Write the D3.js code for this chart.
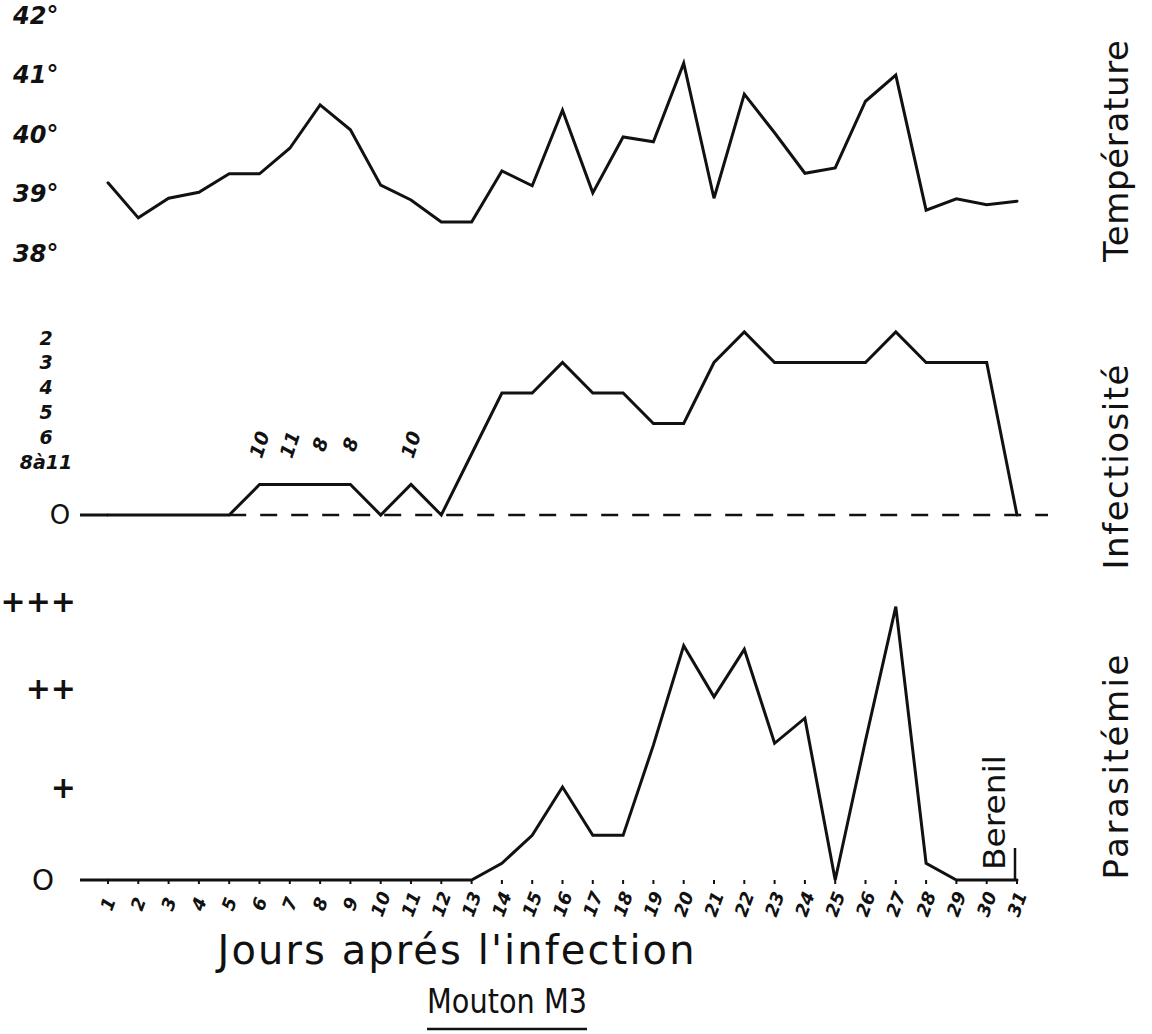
<!DOCTYPE html>
<html>
<head>
<meta charset="utf-8">
<script src="https://cdn.jsdelivr.net/npm/d3@7"></script>
<style>
  html, body { margin: 0; padding: 0; background: #fff; }
  svg { display: block; }
  .hand { font-family: "DejaVu Sans", sans-serif; font-weight: bold; font-style: italic; fill: #111; }
  .title { font-family: "DejaVu Sans", sans-serif; fill: #111; }
</style>
</head>
<body>
<svg id="chart" width="1152" height="1034"></svg>
<script>
// Days after infection
const days = d3.range(1, 32);

// Rectal temperature (°C), one reading per day
const temperature = [39.13, 38.54, 38.87, 38.97, 39.28, 39.28, 39.71, 40.44, 40.02, 39.09,
                     38.84, 38.47, 38.47, 39.33, 39.08, 40.35, 38.96, 39.90, 39.82, 41.14,
                     38.87, 40.62, 39.97, 39.29, 39.38, 40.50, 40.94, 38.67, 38.86, 38.76, 38.82];
const tempTicks = [42, 41, 40, 39, 38];

// Infectivity: highest infective dilution level ("0" = not infective)
const infectLevels = ["2", "3", "4", "5", "6", "8à11", "0"];
const infectivity = ["0", "0", "0", "0", "0", "8à11", "8à11", "8à11", "8à11", "0",
                     "8à11", "0", "6", "4", "4", "3", "4", "4", "5", "5",
                     "3", "2", "3", "3", "3", "3", "2", "3", "3", "3", "0"];
// Exact dilutions written above the low-level days
const dilutionNotes = [
  { day: 6, text: "10" }, { day: 7, text: "11" }, { day: 8, text: "8" },
  { day: 9, text: "8" }, { day: 11, text: "10" }
];

// Parasitaemia in crosses (0 to +++)
const parasitemia = [0, 0, 0, 0, 0, 0, 0, 0, 0, 0,
                     0, 0, 0, 0.18, 0.48, 1.0, 0.48, 0.48, 1.45, 2.52,
                     1.97, 2.48, 1.47, 1.74, 0, 1.5, 2.94, 0.18, 0, 0, 0];
const paraTicks = [{ v: 3, label: "+++" }, { v: 2, label: "++" }, { v: 1, label: "+" }, { v: 0, label: "O" }];

const svg = d3.select("#chart");

const x = d3.scaleLinear().domain([1, 31]).range([108, 1017]);
const yT = d3.scaleLinear().domain([38, 42]).range([250, 12]);
const yI = d3.scalePoint().domain(infectLevels).range([332, 515]);
// the level names are written in a slightly tighter column than the curve levels
const yILabel = d3.scalePoint().domain(infectLevels.slice(0, -1)).range([338, 462]);
const yP = d3.scaleLinear().domain([0, 3]).range([880, 601]);

const axisLeft = 80;
const lineStyle = sel => sel.attr("fill", "none").attr("stroke", "#111")
  .attr("stroke-width", 3).attr("stroke-linejoin", "miter").attr("stroke-linecap", "round");

// ---------- Temperature ----------
svg.append("g").selectAll("text").data(tempTicks).join("text")
  .attr("class", "hand")
  .attr("x", 13).attr("y", d => yT(d) + 2).attr("dy", "0.4em")
  .attr("font-size", 24)
  .text(d => d + "°");

svg.append("path").datum(days)
  .attr("d", d3.line().x(d => x(d)).y((d, i) => yT(temperature[i])))
  .call(lineStyle);

// ---------- Infectivity ----------
const yZeroI = yI("0");
svg.append("line")
  .attr("x1", x(5)).attr("x2", 1048).attr("y1", yZeroI).attr("y2", yZeroI)
  .attr("stroke", "#111").attr("stroke-width", 2.5).attr("stroke-dasharray", "17 14");
svg.append("line")
  .attr("x1", axisLeft).attr("x2", x(1)).attr("y1", yZeroI).attr("y2", yZeroI)
  .attr("stroke", "#111").attr("stroke-width", 3);

svg.append("g").selectAll("text").data(infectLevels.slice(0, -1)).join("text")
  .attr("class", "hand")
  .attr("x", 46)
  .attr("y", d => yILabel(d))
  .attr("dy", "0.35em")
  .attr("text-anchor", "middle")
  .attr("font-size", 19)
  .text(d => d);
svg.append("text")
  .attr("class", "title")
  .attr("x", 60).attr("y", yZeroI).attr("dy", "0.35em")
  .attr("text-anchor", "middle")
  .attr("font-size", 26)
  .text("O");

svg.append("path").datum(days)
  .attr("d", d3.line().x(d => x(d)).y((d, i) => yI(infectivity[i])))
  .call(lineStyle);

svg.append("g").selectAll("text").data(dilutionNotes).join("text")
  .attr("class", "hand")
  .attr("font-size", 19)
  .attr("text-anchor", "middle")
  .attr("transform", d => `translate(${x(d.day)},${yI("8à11") - 40}) rotate(-72)`)
  .attr("dy", "0.35em")
  .text(d => d.text);

// ---------- Parasitaemia ----------
svg.append("g").selectAll("text").data(paraTicks).join("text")
  .attr("class", "title")
  .attr("x", d => d.v === 0 ? 54 : 76)
  .attr("y", d => yP(d.v) - (d.v === 2 ? 6 : 0)).attr("dy", "0.35em")
  .attr("text-anchor", "end")
  .attr("font-size", d => d.v === 0 ? 28 : 30)
  .attr("font-weight", d => d.v === 0 ? "normal" : "bold")
  .text(d => d.label);

svg.append("line")
  .attr("x1", axisLeft).attr("x2", x(1)).attr("y1", yP(0)).attr("y2", yP(0))
  .attr("stroke", "#111").attr("stroke-width", 3);

// small day ticks along the baseline
svg.append("g").selectAll("line").data(days).join("line")
  .attr("x1", d => x(d)).attr("x2", d => x(d))
  .attr("y1", yP(0)).attr("y2", yP(0) + 4)
  .attr("stroke", "#111").attr("stroke-width", 2);

svg.append("path").datum(days)
  .attr("d", d3.line().x(d => x(d)).y((d, i) => yP(parasitemia[i])))
  .call(lineStyle);

// treatment marker
svg.append("line")
  .attr("x1", x(31) - 2).attr("x2", x(31) - 2).attr("y1", yP(0) - 32).attr("y2", yP(0))
  .attr("stroke", "#111").attr("stroke-width", 2.5);
svg.append("text")
  .attr("class", "title")
  .attr("font-size", 30)
  .attr("transform", `translate(${x(30) + 18},${yP(0) - 10}) rotate(-90)`)
  .attr("textLength", 115).attr("lengthAdjust", "spacingAndGlyphs")
  .text("Berenil");

// x tick labels (days)
svg.append("g").selectAll("text").data(days).join("text")
  .attr("class", "hand")
  .attr("font-size", 18)
  .attr("text-anchor", "middle")
  .attr("transform", d => `translate(${x(d)},${yP(0) + 24}) rotate(-70)`)
  .attr("dy", "0.35em")
  .text(d => d);

// ---------- Titles ----------
const titles = [
  { text: "Température", y: 151, len: 222 },
  { text: "Infectiosité", y: 467, len: 205 },
  { text: "Parasitémie", y: 767, len: 225 }
];
svg.append("g").selectAll("text").data(titles).join("text")
  .attr("class", "title")
  .attr("font-size", 34)
  .attr("text-anchor", "middle")
  .attr("textLength", d => d.len).attr("lengthAdjust", "spacing")
  .attr("transform", d => `translate(1128,${d.y}) rotate(-90)`)
  .text(d => d.text);

svg.append("text")
  .attr("class", "title")
  .attr("font-size", 40)
  .attr("x", 456).attr("y", 964)
  .attr("text-anchor", "middle")
  .attr("textLength", 477).attr("lengthAdjust", "spacing")
  .text("Jours aprés l'infection");

const caption = svg.append("text")
  .attr("class", "title")
  .attr("font-size", 33)
  .attr("x", 507).attr("y", 1013)
  .attr("text-anchor", "middle")
  .attr("textLength", 160).attr("lengthAdjust", "spacingAndGlyphs")
  .text("Mouton M3");
const cb = caption.node().getBBox();
svg.append("line")
  .attr("x1", cb.x).attr("x2", cb.x + cb.width)
  .attr("y1", 1029).attr("y2", 1029)
  .attr("stroke", "#111").attr("stroke-width", 2.5);
</script>
</body>
</html>
